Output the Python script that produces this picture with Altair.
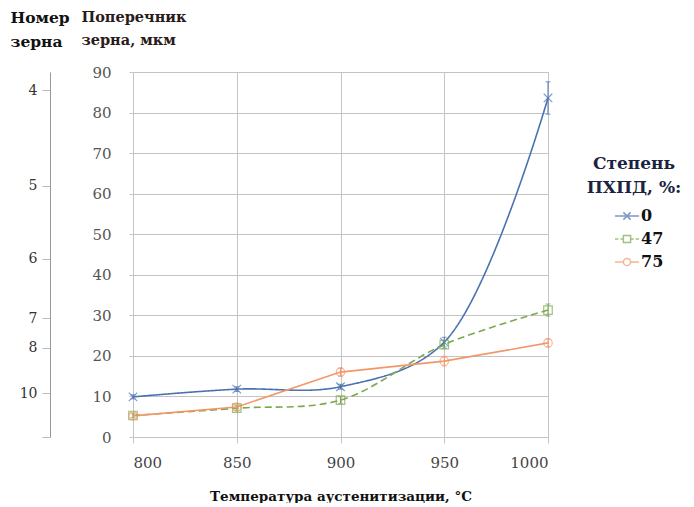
import altair as alt
import pandas as pd

# ---------------- data ----------------
temps = [800, 850, 900, 950, 1000]
series_names = ["0", "47", "75"]
d_0 = [9.9, 11.8, 12.4, 23.4, 83.6]
d_47 = [5.3, 7.1, 9.1, 22.8, 31.3]
d_75 = [5.2, 7.4, 16.0, 18.7, 23.2]
err_0 = [0.5, 0.6, 0.6, 1.2, 4.0]
err_47 = [0.6, 0.6, 0.8, 1.0, 1.5]
err_75 = [0.5, 0.5, 1.0, 1.2, 1.0]

# secondary (grain number) axis: grain number -> position on the size scale
grain_numbers = ["4", "5", "6", "7", "8", "10", ""]
grain_pos = [85.5, 62, 44, 29.3, 22, 10.8, 0]

colors = ["#4a72b0", "#7aa84e", "#f2976a"]
dashes = [[1, 0], [7, 4], [1, 0]]
marker_paths = [
    "M-1,-1L1,1M-1,1L1,-1",
    "M-1,-1H1V1H-1Z",
    "M-1,0A1,1 0 1,0 1,0A1,1 0 1,0 -1,0",
]
legend_paths = [
    "M-1,0H1M-0.3,-0.3L0.3,0.3M-0.3,0.3L0.3,-0.3",
    "M-1,0H-0.72M-0.55,0H-0.3M0.3,0H0.55M0.72,0H1M-0.3,-0.3H0.3V0.3H-0.3Z",
    "M-1,0H-0.3M0.3,0H1M-0.3,0A0.3,0.3 0 1,0 0.3,0A0.3,0.3 0 1,0 -0.3,0",
]

rows = []
for name, vals, errs in zip(series_names, [d_0, d_47, d_75], [err_0, err_47, err_75]):
    for t, v, e in zip(temps, vals, errs):
        rows.append({"T": t, "D": v, "lo": v - e, "hi": v + e, "series": name})
df = pd.DataFrame(rows)

grain_df = pd.DataFrame({"pos": grain_pos, "label": grain_numbers})

FONT = "DejaVu Serif"
Y_TITLE = ["Поперечник", "зерна, мкм"]

xscale = alt.Scale(domain=[800, 1000], nice=False, zero=False)
yscale = alt.Scale(domain=[0, 90], nice=False)
cscale = alt.Scale(domain=series_names, range=colors)

x_enc = alt.X("T:Q", scale=xscale,
              axis=alt.Axis(values=temps, format="d", title="Температура аустенитизации, °C",
                            grid=True, gridColor="#c4c4c4", tickColor="#c4c4c4", tickSize=6,
                            domain=False, labelFontSize=15, labelColor="#444",
                            labelPadding=12, titleFontSize=13.5, titleFontWeight="bold",
                            titleColor="#111", titlePadding=19))
y_enc = alt.Y("D:Q", scale=yscale, title=Y_TITLE,
              axis=alt.Axis(values=list(range(0, 91, 10)),
                            titleAngle=0, titleAlign="left", titleBaseline="top",
                            titleX=-52, titleY=-62, titleFontSize=14.5,
                            titleFontWeight="bold", titleColor="#2a1a1a", titleLineHeight=23,
                            grid=True, gridColor="#c4c4c4", tickColor="#c4c4c4", tickSize=4,
                            domain=False, labelFontSize=15, labelColor="#555",
                            labelPadding=18))

base = alt.Chart(df)

smooth = base.transform_filter(alt.datum.series != "75").mark_line(
    interpolate="catmull-rom", strokeWidth=1.6).encode(
    x=x_enc, y=y_enc,
    color=alt.Color("series:N", scale=cscale, legend=None),
    strokeDash=alt.StrokeDash("series:N", scale=alt.Scale(domain=series_names, range=dashes), legend=None),
)
straight = base.transform_filter(alt.datum.series == "75").mark_line(strokeWidth=1.6).encode(
    x="T:Q", y=alt.Y("D:Q", title=Y_TITLE),
    color=alt.Color("series:N", scale=cscale, legend=None),
)
errs = base.mark_errorbar(ticks=True).encode(
    x="T:Q", y=alt.Y("lo:Q", title=Y_TITLE), y2="hi:Q",
    color=alt.Color("series:N", scale=cscale, legend=None),
)
points = base.mark_point(filled=False, size=72, strokeWidth=1.2).encode(
    x="T:Q", y=alt.Y("D:Q", title=Y_TITLE),
    color=alt.Color("series:N", scale=cscale, legend=None),
    shape=alt.Shape("series:N", scale=alt.Scale(domain=series_names, range=marker_paths), legend=None),
)

main = alt.layer(smooth, straight, errs, points)

legend_layer = base.transform_filter("false").mark_point(filled=False, strokeWidth=1.5).encode(
    color=alt.Color("series:N", scale=cscale, legend=alt.Legend(
        title=["Степень", "ПХПД, %:"], orient="none", legendX=454, legendY=84,
        titleFont=FONT, titleFontSize=17, titleFontWeight="bold", titleColor="#1c2340",
        titleAnchor="middle", titleAlign="center", titleLineHeight=24, titlePadding=6,
        labelFont=FONT, labelFontSize=16, labelFontWeight="bold", labelColor="#111",
        symbolSize=576, symbolStrokeWidth=1.5, symbolOffset=10, labelOffset=1, rowPadding=2)),
    shape=alt.Shape("series:N", scale=alt.Scale(domain=series_names, range=legend_paths)),
)

label_expr = " : ".join(f"datum.value == {p} ? '{l}'" for p, l in zip(grain_pos, grain_numbers)) + " : ''"
sec_axis = alt.Chart(grain_df).mark_point(opacity=0).encode(
    y=alt.Y("pos:Q", scale=yscale,
            axis=alt.Axis(orient="left", offset=83, values=grain_pos, labelExpr=label_expr,
                          labelOverlap=False, labelBound=False,
                          title=["Номер", "зерна"], titleAngle=0, titleAlign="left",
                          titleBaseline="top", titleX=-40, titleY=-62,
                          titleFontSize=15.5, titleFontWeight="bold", titleColor="#111",
                          titleLineHeight=24, domainColor="#999", tickColor="#bbb", tickSize=8,
                          labelFontSize=14, labelColor="#333", labelPadding=5,
                          grid=False)),
)

chart = alt.layer(main, legend_layer, sec_axis).resolve_scale(
    y="independent", color="independent", shape="independent", strokeDash="independent"
).properties(
    width=415, height=365,
    autosize=alt.AutoSizeParams(type="none"),
    padding={"left": 125, "top": 64, "right": 138, "bottom": 66},
).configure_view(stroke=None).configure_axis(
    labelFont=FONT, titleFont=FONT
).configure(font=FONT)

chart.save("out.html", embed_options={"renderer": "svg", "actions": False})
